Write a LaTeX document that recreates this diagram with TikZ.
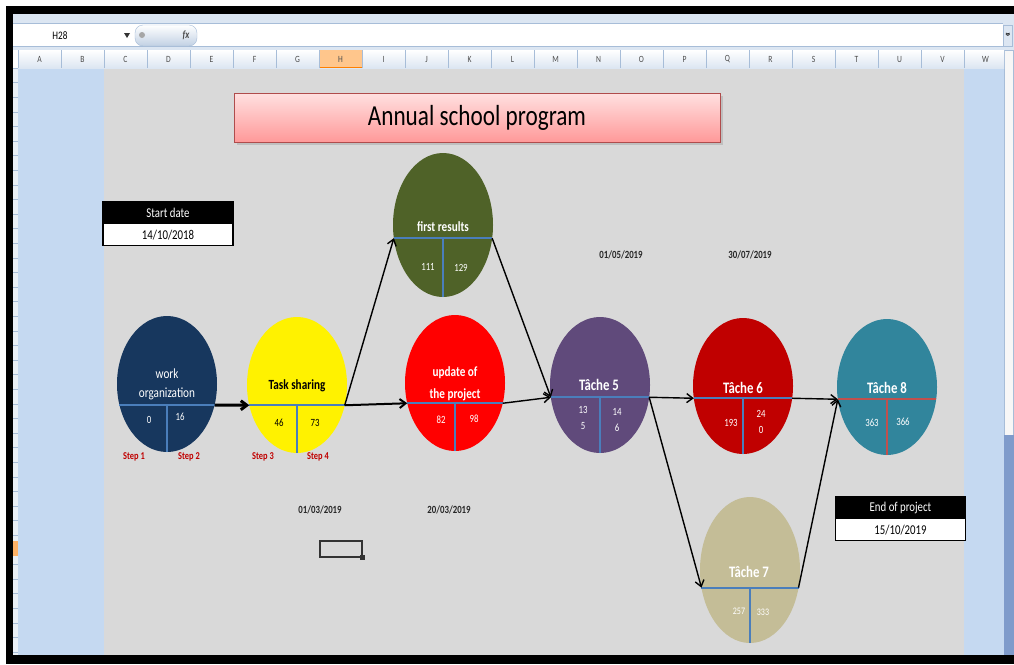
\documentclass[tikz,border=0pt]{standalone}
\usepackage{fontspec}
\setmainfont{Carlito}[FakeStretch=0.8]
\usetikzlibrary{shapes.geometric,arrows.meta,positioning}

\definecolor{sheetgray}{HTML}{D9D9D9}
\definecolor{selblue}{HTML}{C5D9F1}
\definecolor{barblue}{HTML}{DCE6F2}
\definecolor{edgeblue}{HTML}{A7BDD8}
\definecolor{scrollblue}{HTML}{7F9BCB}
\definecolor{divblue}{HTML}{4A7EBB}
\definecolor{divred}{HTML}{C0504D}
\definecolor{navy}{HTML}{17375E}
\definecolor{olive}{HTML}{4F6228}
\definecolor{plum}{HTML}{604A7B}
\definecolor{darkred}{HTML}{C00000}
\definecolor{teal}{HTML}{31859C}
\definecolor{khaki}{HTML}{C4BD97}
\definecolor{stepred}{HTML}{C00000}

\tikzset{
  task/.style={ellipse, minimum width=100pt, minimum height=136pt, inner sep=0pt, outer sep=0pt},
  divider/.style={draw=divblue, line width=1.8pt},
  flow/.style={-{Straight Barb[length=6pt,width=9pt]}, line width=1.4pt},
  tasktext/.style={text=white, font=\bfseries\fontsize{16}{18}\selectfont},
  labeltext/.style={text=white, font=\bfseries\fontsize{14}{20}\selectfont, align=center},
  numtext/.style={text=white, font=\fontsize{11}{16}\selectfont, align=center},
  steptext/.style={text=stepred, font=\bfseries\fontsize{10.5}{12}\selectfont},
  datetext/.style={text=black!85, font=\bfseries\fontsize{11}{12}\selectfont},
  headcell/.style={fill=black, text=white, minimum width=130pt, minimum height=22pt, inner sep=0pt, font=\fontsize{13.5}{15}\selectfont},
  valuecell/.style={fill=white, text=black, minimum width=130pt, minimum height=21pt, inner sep=0pt, font=\fontsize{13.5}{15}\selectfont},
  hdrline/.style={draw=edgeblue, line width=0.6pt},
}

\begin{document}
\begin{tikzpicture}[x=1pt, y=-1pt]
    \useasboundingbox (0,0) rectangle (1014,664);
    \fill[white] (0,0) rectangle (1014,664);

    % Draw the window frame, the bars and the sheet
    \fill[barblue] (13,14) rectangle (1014,50);
    \fill[white] (13,24) rectangle (1003,46);
    \draw[hdrline] (13,23.5) -- (1003,23.5);
    \draw[hdrline] (13,46.5) -- (1003,46.5);
    \fill[selblue] (18,68) rectangle (104,655);
    \fill[sheetgray] (104,68) rectangle (964,655);
    \fill[selblue] (964,68) rectangle (1004,655);
    \fill[black!3] (1004,50) rectangle (1013,435);
    \draw[hdrline] (1004,50) rectangle (1013,435);
    \fill[scrollblue] (1004,435) rectangle (1014,655);
    \fill[black] (6,6) rectangle (1014,14);
    \fill[black] (6,6) rectangle (13,664);
    \fill[black] (6,655) rectangle (1014,664);

    % Name box and formula button
    \node[font=\fontsize{11.5}{12}\selectfont] (namebox) at (60,36) {H28};
    \fill[black!80] (124,33) -- (130,33) -- (127,38) -- cycle;
    \shade[top color=white, bottom color=edgeblue!70, draw=edgeblue, rounded corners=8pt] (135,25) rectangle (197,46);
    \fill[black!35] (142,35) circle (3);
    \node[font=\itshape\bfseries\fontsize{11}{12}\selectfont, text=black!70] (fx) at (186,35) {fx};
    \draw[edgeblue] (1003,25) rectangle (1012,46);
    \node[rotate=-90, font=\bfseries\fontsize{11}{11}\selectfont] (more) at (1007.5,35) {»};

    % Column and row headers
    \shade[top color=white, bottom color=barblue] (18,50) rectangle (1004,68);
    \fill[orange!45] (320,50) rectangle (363,68);
    \draw[orange, line width=1pt] (320,67.5) -- (363,67.5);
    \foreach \col [count=\i from 0] in {A,B,C,D,E,F,G,H,I,J,K,L,M,N,O,P,Q,R,S,T,U,V,W} {
        \draw[hdrline] ({18+43*\i},50) -- ({18+43*\i},68);
        \node[font=\fontsize{9.5}{10}\selectfont, text=black!70] (col\col) at ({39.5+43*\i},59.5) {\col};
    }
    \fill[barblue!60] (13,68) rectangle (18,655);
    \foreach \r in {0,...,40}
        \draw[hdrline] (13,{68+14.6*\r}) -- (18,{68+14.6*\r});
    \fill[orange!60] (13,541) rectangle (18,556);

    % Title
    \fill[black!25] (237,96) rectangle (723,145);
    \node[minimum width=486pt, minimum height=49pt, top color=red!12, bottom color=red!40, draw=red!55!black!70, font=\fontsize{29}{30}\selectfont] (title) at (477,117.5) {Annual school program};

    % Start and end boxes
    \node[headcell] (starthead) at (168,213) {Start date};
    \node[valuecell, below=0pt of starthead] (startval) {14/10/2018};
    \draw[line width=1.5pt] (starthead.north west) rectangle (startval.south east);
    \node[headcell] (endhead) at (900.5,508) {End of project};
    \node[valuecell, below=0pt of endhead] (endval) {15/10/2019};
    \draw[line width=1.5pt] (endhead.north west) rectangle (endval.south east);

    % Draw the tasks
    \node[task, fill=navy] (work) at (167,384) {};
    \node[task, fill=yellow] (share) at (297,385) {};
    \node[task, fill=olive, minimum height=144pt] (first) at (443,225) {};
    \node[task, fill=red] (update) at (455,383) {};
    \node[task, fill=plum] (t5) at (600,385) {};
    \node[task, fill=darkred] (t6) at (743,386) {};
    \node[task, fill=teal] (t8) at (887,387) {};
    \node[task, fill=khaki, minimum height=146pt] (t7) at (750,570) {};

    % Dividers of each task
    \draw[divider] (work.-156) -- (work.-24);
    \draw[divider] (work.south |- work.-24) -- (work.south);
    \draw[divider] (share.-157) -- (share.-23);
    \draw[divider] (share.south |- share.-23) -- (share.south);
    \draw[divider] (first.-165) -- (first.-15);
    \draw[divider] (first.south |- first.-15) -- (first.south);
    \draw[divider] (update.-157) -- (update.-23);
    \draw[divider] (update.south |- update.-23) -- (update.south);
    \draw[divider] (t5.-166) -- (t5.-14);
    \draw[divider] (t5.south |- t5.-14) -- (t5.south);
    \draw[divider] (t6.-166) -- (t6.-14);
    \draw[divider] (t6.south |- t6.-14) -- (t6.south);
    \draw[divider, draw=divred] (t8.-166) -- (t8.-14);
    \draw[divider, draw=divred] (t8.south |- t8.-14) -- (t8.south);
    \draw[divider] (t7.-160) -- (t7.-20);
    \draw[divider] (t7.south |- t7.-20) -- (t7.south);

    % Names of the tasks
    \node[labeltext, font=\fontsize{14}{19}\selectfont] (workname) at (167,384.5) {work\\organization};
    \node[labeltext, text=black] (sharename) at (297,386) {Task sharing};
    \node[labeltext] (firstname) at (443,227) {first results};
    \node[labeltext, font=\bfseries\fontsize{14}{22}\selectfont] (updatename) at (455,384) {update of\\the project};
    \node[tasktext] (t5name) at (599,385) {Tâche 5};
    \node[tasktext] (t6name) at (743,388) {Tâche 6};
    \node[tasktext] (t8name) at (887,388) {Tâche 8};
    \node[tasktext] (t7name) at (749,572) {Tâche 7};

    % Numbers of the tasks
    \node[numtext] (workA) at (149,420) {0};
    \node[numtext] (workB) at (180,417) {16};
    \node[numtext, text=black] (shareA) at (279,423) {46};
    \node[numtext, text=black] (shareB) at (315,423) {73};
    \node[numtext] (firstA) at (428,267) {111};
    \node[numtext] (firstB) at (461,268) {129};
    \node[numtext] (updateA) at (441,420) {82};
    \node[numtext] (updateB) at (474,419) {98};
    \node[numtext] (t5A) at (583,418) {13\\5};
    \node[numtext] (t5B) at (617,420) {14\\6};
    \node[numtext] (t6A) at (731,423) {193};
    \node[numtext] (t6B) at (761,422) {24\\0};
    \node[numtext] (t8A) at (872,423) {363};
    \node[numtext] (t8B) at (903,422) {366};
    \node[numtext, font=\fontsize{10}{12}\selectfont] (t7A) at (739,611) {257};
    \node[numtext, font=\fontsize{10}{12}\selectfont] (t7B) at (763,612) {333};

    % Steps and dates
    \node[steptext] (step1) at (134,457) {Step 1};
    \node[steptext] (step2) at (189,457) {Step 2};
    \node[steptext] (step3) at (263,457) {Step 3};
    \node[steptext] (step4) at (318,457) {Step 4};
    \node[datetext] (date1) at (320,510) {01/03/2019};
    \node[datetext] (date2) at (449,510) {20/03/2019};
    \node[datetext] (date3) at (621,255) {01/05/2019};
    \node[datetext] (date4) at (750,255) {30/07/2019};

    % Selected cell
    \draw[black!80, line width=2.5pt] (320,541) rectangle (362,557);
    \fill[black!80] (360,555) rectangle (365,560);

    % Connectors
    \draw[flow, line width=3pt] (work.-24) -- (share.-157);
    \draw[flow] (share.-23) -- (first.-165);
    \draw[flow, line width=2pt] (share.-23) -- (update.-157);
    \draw[flow] (first.-15) -- (t5.-166);
    \draw[flow] (update.-23) -- (t5.-166);
    \draw[flow] (t5.-14) -- (t6.-166);
    \draw[flow] (t5.-14) -- (t7.-160);
    \draw[flow] (t6.-14) -- (t8.-166);
    \draw[flow] (t7.-20) -- (t8.-166);

\end{tikzpicture}
\end{document}
